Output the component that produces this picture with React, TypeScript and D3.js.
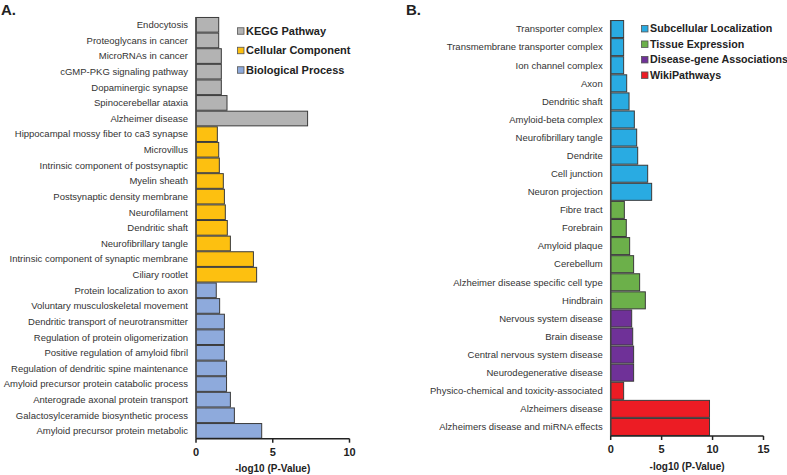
import React from "react";
import * as d3 from "d3";

const leftCategories = [
  "Endocytosis", "Proteoglycans in cancer", "MicroRNAs in cancer", "cGMP-PKG signaling pathway",
  "Dopaminergic synapse", "Spinocerebellar ataxia", "Alzheimer disease",
  "Hippocampal mossy fiber to ca3 synapse", "Microvillus", "Intrinsic component of postsynaptic",
  "Myelin sheath", "Postsynaptic density membrane", "Neurofilament", "Dendritic shaft",
  "Neurofibrillary tangle", "Intrinsic component of synaptic membrane", "Ciliary rootlet",
  "Protein localization to axon", "Voluntary musculoskeletal movement",
  "Dendritic transport of neurotransmitter", "Regulation of protein oligomerization",
  "Positive regulation of amyloid fibril", "Regulation of dendritic spine maintenance",
  "Amyloid precursor protein catabolic process", "Anterograde axonal protein transport",
  "Galactosylceramide biosynthetic process", "Amyloid precursor protein metabolic",
];
const leftValues = [
  1.48, 1.48, 1.65, 1.65, 1.65, 2.02, 7.27,
  1.39, 1.48, 1.52, 1.78, 1.85, 1.91, 2.04, 2.24, 3.74, 3.95,
  1.32, 1.54, 1.85, 1.85, 1.85, 1.99, 1.99, 2.24, 2.5, 4.28,
];
const leftGroups = [
  0, 0, 0, 0, 0, 0, 0,
  1, 1, 1, 1, 1, 1, 1, 1, 1, 1,
  2, 2, 2, 2, 2, 2, 2, 2, 2, 2,
];
const leftLegend = ["KEGG Pathway", "Cellular Component", "Biological Process"];
const leftColors = ["#b3b3b3", "#fdc010", "#8eaadc"];
const leftTicks = [0, 5, 10];

const rightCategories = [
  "Transporter complex", "Transmembrane transporter complex", "Ion channel complex", "Axon",
  "Dendritic shaft", "Amyloid-beta complex", "Neurofibrillary tangle", "Dendrite",
  "Cell junction", "Neuron projection",
  "Fibre tract", "Forebrain", "Amyloid plaque", "Cerebellum",
  "Alzheimer disease specific cell type", "Hindbrain",
  "Nervous system disease", "Brain disease", "Central nervous system disease",
  "Neurodegenerative disease",
  "Physico-chemical and toxicity-associated", "Alzheimers disease",
  "Alzheimers disease and miRNA effects",
];
const rightValues = [
  1.27, 1.27, 1.27, 1.57, 1.8, 2.32, 2.55, 2.65, 3.63, 4.02,
  1.34, 1.53, 1.86, 2.25, 2.84, 3.4,
  2.06, 2.16, 2.25, 2.25,
  1.27, 9.7, 9.7,
];
const rightGroups = [
  0, 0, 0, 0, 0, 0, 0, 0, 0, 0,
  1, 1, 1, 1, 1, 1,
  2, 2, 2, 2,
  3, 3, 3,
];
const rightLegend = ["Subcellular Localization", "Tissue Expression", "Disease-gene Associations", "WikiPathways"];
const rightColors = ["#29abe2", "#6cb04a", "#6f3198", "#ec1c24"];
const rightTicks = [0, 5, 10, 15];

const FONT = "Liberation Sans, Arial, sans-serif";

type PanelProps = {
  letter: string;
  letterX: number;
  categories: string[];
  values: number[];
  groups: number[];
  colors: string[];
  legend: string[];
  ticks: number[];
  xMax: number;
  x0: number;
  x1: number;
  y0: number;
  y1: number;
  legendX: number;
  legendY: number;
  legendStep: number;
  legendFont: number;
};

function Panel(p: PanelProps) {
  const x = d3.scaleLinear().domain([0, p.xMax]).range([p.x0, p.x1]);
  const y = d3.scaleBand<string>().domain(p.categories).range([p.y0, p.y1]).paddingInner(0.06).paddingOuter(0.03);
  const bw = y.bandwidth();
  return (
    <g>
      <text x={p.letterX} y={15} fontFamily={FONT} fontWeight="bold" fontSize={15} fill="#222">{p.letter}</text>
      {p.categories.map((c, i) => (
        <g key={c + i}>
          <rect
            x={x(0)}
            y={y(c)!}
            width={x(p.values[i]) - x(0)}
            height={bw}
            fill={p.colors[p.groups[i]]}
            stroke="#3a3a3a"
            strokeWidth={1}
          />
          <text
            x={p.x0 - 8}
            y={y(c)! + bw / 2}
            dy="0.35em"
            textAnchor="end"
            fontFamily={FONT}
            fontSize={9.5}
            fill="#333"
          >
            {c}
          </text>
        </g>
      ))}
      <line x1={p.x0} x2={p.x0} y1={p.y0} y2={p.y1} stroke="#444" strokeWidth={1.5} />
      <line x1={p.x0} x2={p.x1} y1={p.y1} y2={p.y1} stroke="#222" strokeWidth={1.5} />
      {p.ticks.map((t) => (
        <g key={t}>
          <line x1={x(t)} x2={x(t)} y1={p.y1} y2={p.y1 + 4} stroke="#222" strokeWidth={1.5} />
          <text x={x(t)} y={p.y1 + 13} dy="0.35em" textAnchor="middle" fontFamily={FONT} fontWeight="bold" fontSize={11} fill="#222">{t}</text>
        </g>
      ))}
      <text x={(p.x0 + p.x1) / 2} y={p.y1 + 30} dy="0.35em" textAnchor="middle" fontFamily={FONT} fontWeight="bold" fontSize={10} fill="#222">-log10 (P-Value)</text>
      {p.legend.map((l, i) => (
        <g key={l}>
          <rect x={p.legendX} y={p.legendY + i * p.legendStep - 3.25} width={6.5} height={6.5} fill={p.colors[i]} stroke="#555" strokeWidth={0.8} />
          <text x={p.legendX + 8.5} y={p.legendY + i * p.legendStep} dy="0.35em" fontFamily={FONT} fontWeight="bold" fontSize={p.legendFont} fill="#222">{l}</text>
        </g>
      ))}
    </g>
  );
}

export default function App() {
  return (
    <svg width={787} height={475} style={{ position: "absolute", left: 0, top: 0, background: "#fff" }}>
      <Panel
        letter="A."
        letterX={1}
        categories={leftCategories}
        values={leftValues}
        groups={leftGroups}
        colors={leftColors}
        legend={leftLegend}
        ticks={leftTicks}
        xMax={10}
        x0={196}
        x1={349.5}
        y0={17}
        y1={438.7}
        legendX={237.5}
        legendY={31}
        legendStep={19.5}
        legendFont={11}
      />
      <Panel
        letter="B."
        letterX={406}
        categories={rightCategories}
        values={rightValues}
        groups={rightGroups}
        colors={rightColors}
        legend={rightLegend}
        ticks={rightTicks}
        xMax={15}
        x0={610.7}
        x1={763.5}
        y0={20}
        y1={436}
        legendX={641.5}
        legendY={28.7}
        legendStep={15.5}
        legendFont={10.7}
      />
    </svg>
  );
}
